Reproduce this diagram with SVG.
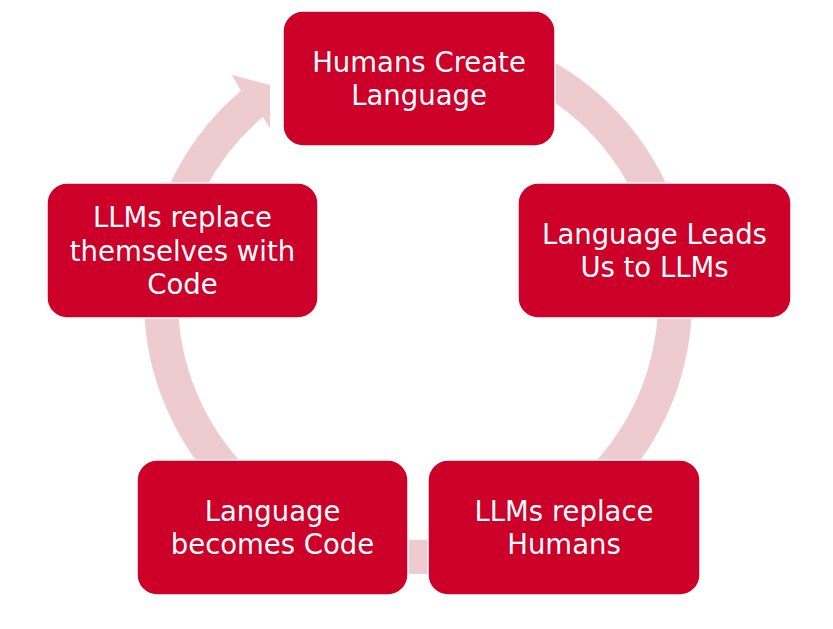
<svg xmlns="http://www.w3.org/2000/svg" width="833" height="629" viewBox="0 0 833 629">
<style>
.ring{fill:none;stroke:#EDCBCE;stroke-width:34;stroke-linecap:butt}
.head{fill:#EDCBCE}
.box{fill:#CC0029;stroke:#FFFFFF;stroke-width:1.5}
.lbl{font-family:"DejaVu Sans",Verdana,sans-serif;font-size:27.5px;fill:#FFFFFF;text-anchor:middle}
</style>
<rect width="833" height="629" fill="#FFFFFF"/>
<g id="connectors">
<path class="ring" d="M546.5,77.4 A257,257 0 1 1 256.3,100.3"/>
<polygon class="head" points="241,91 232,75 270,85 270,128 263,117"/>
</g>
<g id="node-humans-create-language">
<rect class="box" x="283" y="11" width="272" height="135" rx="20"/>
<text class="lbl" x="419" y="71.75">Humans Create</text>
<text class="lbl" x="419" y="105.25">Language</text>
</g>
<g id="node-language-leads">
<rect class="box" x="518" y="183" width="273" height="135" rx="20"/>
<text class="lbl" x="654.5" y="243.75">Language Leads</text>
<text class="lbl" x="654.5" y="277.25">Us to LLMs</text>
</g>
<g id="node-llms-replace-humans">
<rect class="box" x="428" y="460" width="272" height="135" rx="20"/>
<text class="lbl" x="564" y="520.75">LLMs replace</text>
<text class="lbl" x="564" y="554.25">Humans</text>
</g>
<g id="node-language-becomes-code">
<rect class="box" x="137" y="460" width="271" height="135" rx="20"/>
<text class="lbl" x="272.5" y="520.75">Language</text>
<text class="lbl" x="272.5" y="554.25">becomes Code</text>
</g>
<g id="node-llms-replace-themselves">
<rect class="box" x="47" y="183" width="271" height="135" rx="20"/>
<text class="lbl" x="182.5" y="227">LLMs replace</text>
<text class="lbl" x="182.5" y="260.5">themselves with</text>
<text class="lbl" x="182.5" y="294">Code</text>
</g>
</svg>
